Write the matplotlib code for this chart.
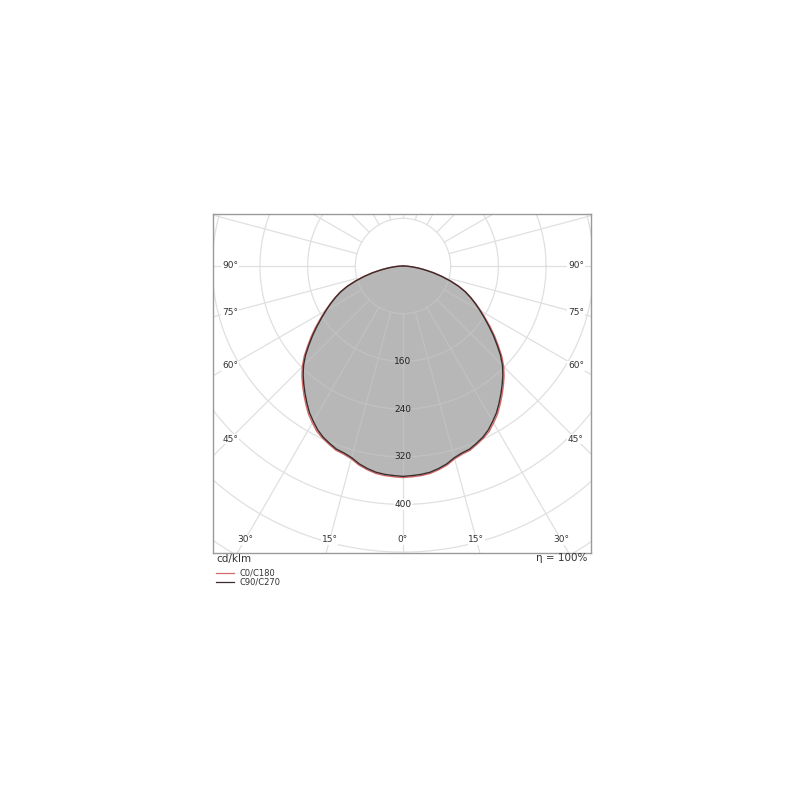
import numpy as np
import matplotlib.pyplot as plt
from matplotlib.lines import Line2D
from matplotlib.patches import Polygon

# Gamma angles (deg from nadir) and luminous intensity (cd/klm)
gamma = [0, 2.5, 5, 7.5, 10, 12.5, 15, 17.5, 20, 22.5, 25, 27.5, 30,
         32.5, 35, 37.5, 40, 42.5, 45, 47.5, 50, 52.5, 55, 57.5, 60,
         62.5, 65, 67.5, 70, 72.5, 75, 77.5, 80, 82.5, 85, 87.5, 90]
c0_c180 = [355, 354, 353, 351, 347, 342, 335, 331, 329, 324, 319, 313, 304,
           295, 284, 273, 262, 251, 239, 225, 209, 194, 179, 164, 151,
           138, 126, 114, 100, 84, 68, 53, 38, 26, 15, 7, 1]
c90_c270 = [353, 352, 351, 349, 345, 340, 333, 329, 327, 322, 317, 310, 301,
            292, 281, 270, 259, 248, 236, 222, 206, 191, 176, 162, 149,
            137, 125, 113, 99, 83, 67, 52, 37, 25, 14, 7, 1]

rings = [80, 160, 240, 320, 400, 480, 560]
ring_labels = [160, 240, 320, 400]
side_angles = [45, 60, 75, 90]
bottom_angles = [0, 15, 30]

# Layout in pixels of the 800x800 picture
px_per_unit = 0.596
box_left, box_right, box_top, box_bottom = 213, 591, 214, 553
cx, cy = 403, 266

fig = plt.figure(figsize=(8, 8), dpi=100)
ax = fig.add_axes([box_left / 800, 1 - box_bottom / 800,
                   (box_right - box_left) / 800, (box_bottom - box_top) / 800])
xmin = (box_left - cx) / px_per_unit
xmax = (box_right - cx) / px_per_unit
ymax = (cy - box_top) / px_per_unit
ymin = (cy - box_bottom) / px_per_unit
ax.set_xlim(xmin, xmax)
ax.set_ylim(ymin, ymax)
ax.set_xticks([])
ax.set_yticks([])
for s in ax.spines.values():
    s.set_color("#9a9a9a")
    s.set_linewidth(1.0)


def curve_xy(values):
    g = np.radians(gamma)
    v = np.array(values, dtype=float)
    # left half (C180 / C270) from 90 down to 0, then right half back to 90
    xl = -v[::-1] * np.sin(g[::-1])
    yl = -v[::-1] * np.cos(g[::-1])
    xr = v * np.sin(g)
    yr = -v * np.cos(g)
    return np.concatenate([xl, xr[1:]]), np.concatenate([yl, yr[1:]])


xb, yb = curve_xy(c90_c270)
fill = Polygon(np.column_stack([xb, yb]), closed=True,
               facecolor="#b7b7b7", edgecolor="none", zorder=2)
ax.add_patch(fill)


def draw_grid(color, zorder, clip=None):
    t = np.linspace(0, 2 * np.pi, 400)
    arts = []
    for r in rings:
        arts += ax.plot(r * np.cos(t), r * np.sin(t), color=color, lw=0.9, zorder=zorder)
    for a in range(0, 360, 15):
        ar = np.radians(a)
        arts += ax.plot([80 * np.sin(ar), 800 * np.sin(ar)],
                        [-80 * np.cos(ar), -800 * np.cos(ar)],
                        color=color, lw=0.9, zorder=zorder)
    if clip is not None:
        for art in arts:
            art.set_clip_path(clip)


draw_grid("#e0e0e0", 1)
draw_grid("#c1c1c1", 3, clip=fill)

xr_, yr_ = curve_xy(c0_c180)
ax.plot(xr_, yr_, color="#d46a6a", lw=1.0, zorder=4)
ax.plot(xb, yb, color="#3b2b2b", lw=1.0, zorder=5)

# Ring value labels along nadir
for r in ring_labels:
    bg = dict(facecolor="white", edgecolor="none", pad=0.6) if r == 400 else None
    ax.text(0, -r, str(r), ha="center", va="center", fontsize=6.5,
            color="#222222", zorder=6, bbox=bg)

# Angle labels
lab = dict(ha="center", va="center", fontsize=6.5, color="#333333", zorder=6,
           bbox=dict(facecolor="white", edgecolor="none", pad=0.5))
side_x = xmax - 15 / px_per_unit
for a in side_angles:
    y = -side_x / np.tan(np.radians(a)) if a != 90 else 0
    ax.text(-side_x, y, f"{a}°", **lab)
    ax.text(side_x, y, f"{a}°", **lab)
bot_y = ymin + 13 / px_per_unit
for a in bottom_angles:
    x = -bot_y * np.tan(np.radians(a))
    ax.text(x, bot_y, f"{a}°", **lab)
    if a != 0:
        ax.text(-x, bot_y, f"{a}°", **lab)

# Texts and legend under the box
fig.text(216 / 800, 1 - 559 / 800, "cd/klm", ha="left", va="center",
         fontsize=7.5, color="#333333")
fig.text(587 / 800, 1 - 558 / 800, "η = 100%", ha="right", va="center",
         fontsize=7.5, color="#333333")
legend_items = [("C0/C180", "#d46a6a", 573), ("C90/C270", "#3b2b2b", 582)]
for name, col, ypx in legend_items:
    fig.add_artist(Line2D([216 / 800, 234 / 800], [1 - ypx / 800, 1 - ypx / 800],
                          color=col, lw=0.9))
    fig.text(240 / 800, 1 - ypx / 800, name, ha="left", va="center",
             fontsize=6, color="#333333")

fig.savefig("out.png", dpi=100)
